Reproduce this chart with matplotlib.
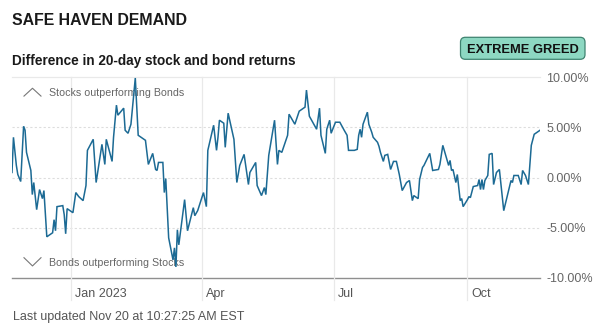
import matplotlib
matplotlib.use("Agg")
import matplotlib.pyplot as plt
import matplotlib.dates as mdates
import matplotlib.transforms as mtransforms
from matplotlib.patches import FancyBboxPatch
import pandas as pd

plt.rcParams["font.family"] = ["Liberation Sans", "DejaVu Sans"]

# Difference in 20-day stock and bond returns (%)
dates = [
    "2022-11-21", "2022-11-22", "2022-11-24", "2022-11-25", "2022-11-27", "2022-11-29",
    "2022-11-30", "2022-12-01", "2022-12-04", "2022-12-05", "2022-12-06", "2022-12-08",
    "2022-12-10", "2022-12-12", "2022-12-13", "2022-12-15", "2022-12-19", "2022-12-20",
    "2022-12-21", "2022-12-22", "2022-12-26", "2022-12-27", "2022-12-28", "2022-12-29",
    "2023-01-02", "2023-01-04", "2023-01-06", "2023-01-09", "2023-01-11", "2023-01-12",
    "2023-01-16", "2023-01-18", "2023-01-22", "2023-01-24", "2023-01-25", "2023-01-27",
    "2023-01-29", "2023-01-30", "2023-02-01", "2023-02-02", "2023-02-06", "2023-02-07",
    "2023-02-09", "2023-02-11", "2023-02-14", "2023-02-16", "2023-02-21", "2023-02-23",
    "2023-02-26", "2023-02-28", "2023-03-01", "2023-03-02", "2023-03-05", "2023-03-06",
    "2023-03-07", "2023-03-09", "2023-03-12", "2023-03-13", "2023-03-14", "2023-03-15",
    "2023-03-16", "2023-03-20", "2023-03-22", "2023-03-26", "2023-03-27", "2023-03-29",
    "2023-04-02", "2023-04-04", "2023-04-05", "2023-04-09", "2023-04-11", "2023-04-12",
    "2023-04-13", "2023-04-16", "2023-04-17", "2023-04-19", "2023-04-23", "2023-04-25",
    "2023-04-27", "2023-04-30", "2023-05-03", "2023-05-04", "2023-05-08", "2023-05-09",
    "2023-05-12", "2023-05-14", "2023-05-15", "2023-05-17", "2023-05-21", "2023-05-23",
    "2023-05-24", "2023-05-26", "2023-05-30", "2023-05-31", "2023-06-04", "2023-06-07",
    "2023-06-11", "2023-06-12", "2023-06-14", "2023-06-19", "2023-06-21", "2023-06-22",
    "2023-06-25", "2023-06-26", "2023-06-28", "2023-06-29", "2023-07-02", "2023-07-05",
    "2023-07-08", "2023-07-10", "2023-07-11", "2023-07-15", "2023-07-17", "2023-07-18",
    "2023-07-19", "2023-07-20", "2023-07-21", "2023-07-24", "2023-07-25", "2023-07-27",
    "2023-07-28", "2023-07-31", "2023-08-01", "2023-08-02", "2023-08-04", "2023-08-05",
    "2023-08-07", "2023-08-09", "2023-08-11", "2023-08-13", "2023-08-15", "2023-08-17",
    "2023-08-20", "2023-08-22", "2023-08-24", "2023-08-25", "2023-08-28", "2023-08-29",
    "2023-08-31", "2023-09-01", "2023-09-05", "2023-09-07", "2023-09-11", "2023-09-12",
    "2023-09-14", "2023-09-17", "2023-09-18", "2023-09-19", "2023-09-20", "2023-09-21",
    "2023-09-23", "2023-09-24", "2023-09-26", "2023-09-27", "2023-09-28", "2023-10-01",
    "2023-10-02", "2023-10-03", "2023-10-05", "2023-10-08", "2023-10-09", "2023-10-10",
    "2023-10-11", "2023-10-12", "2023-10-13", "2023-10-15", "2023-10-16", "2023-10-18",
    "2023-10-19", "2023-10-21", "2023-10-23", "2023-10-26", "2023-10-29", "2023-10-31",
    "2023-11-01", "2023-11-02", "2023-11-05", "2023-11-07", "2023-11-08", "2023-11-10",
    "2023-11-12", "2023-11-14", "2023-11-16", "2023-11-20",
]
spread = [
    0.5, 4.0, 1.2, 0.3, -0.4, 5.1,
    4.7, 2.5, 0.7, -1.7, -0.5, -3.2,
    -1.2, -2.1, -1.3, -5.9, -5.5, -4.2,
    -5.3, -2.9, -2.8, -3.7, -5.6, -3.1,
    -3.5, -1.5, -1.9, -2.3, -0.8, 2.7,
    3.8, -0.5, 3.3, 1.3, 3.8, 2.7,
    1.6, 4.0, 7.2, 6.2, 6.9, 4.7,
    4.4, 5.3, 9.9, 4.2, 3.7, 1.3,
    2.4, 0.8, 0.7, 1.5, 1.5, -1.5,
    -0.1, -6.0, -8.2, -7.0, -8.9, -5.2,
    -6.7, -2.2, -5.3, -3.0, -3.8, -3.3,
    -1.5, -2.9, 2.7, 5.2, 2.7, 4.0,
    5.7, 5.4, 3.0, 6.4, 3.8, -0.5,
    1.2, 2.3, -0.7, 0.5, 1.5, -0.8,
    -1.8, -1.0, -1.7, 2.2, 5.7, 1.3,
    2.7, 2.5, 4.2, 6.3, 5.3, 6.6,
    7.0, 8.7, 6.1, 4.8, 6.9, 4.2,
    2.4, 4.8, 5.7, 4.4, 5.5, 5.5,
    4.7, 4.2, 2.7, 2.7, 2.8, 4.2,
    4.8, 4.0, 5.3, 6.5, 5.3, 4.5,
    4.0, 3.5, 3.1, 2.5, 1.6, 2.2,
    2.3, 0.8, 1.6, 1.6, 0.3, -1.3,
    -0.5, -0.3, -2.3, -1.8, -2.1, -0.2,
    1.0, 1.2, 2.4, 0.7, 0.8, 1.3,
    3.2, 1.7, 1.2, 1.7, 0.7, 0.8,
    -0.5, 0.3, -2.3, -2.1, -2.9, -2.2,
    -1.9, -2.0, -0.9, -0.8, -0.2, -1.2,
    -0.2, -1.2, -0.3, 0.2, 2.3, 2.4,
    -0.7, 0.5, 0.8, -3.3, -1.5, -0.3,
    -0.5, 0.2, 0.2, -0.7, 0.7, 0.2,
    -0.7, 3.2, 4.3, 4.7,
]

month_ticks = ["2023-01-01", "2023-04-01", "2023-07-01", "2023-10-01"]
month_labels = ["Jan 2023", "Apr", "Jul", "Oct"]
y_ticks = [-10, -5, 0, 5, 10]

x = pd.to_datetime(dates)
W, H = 604, 327
fig = plt.figure(figsize=(W / 100, H / 100), dpi=100)
ax = fig.add_axes([12 / W, 1 - 278 / H, 528 / W, 201 / H])

ax.set_xlim(x[0], x[-1])
ax.set_ylim(-10, 10)
for s in ax.spines.values():
    s.set_visible(False)

# horizontal reference lines
for v in y_ticks:
    if v == -10:
        ax.axhline(v, color="#8f8f8f", lw=1.0, zorder=1, clip_on=False)
    elif v == 10:
        ax.axhline(v, color="#e9e9e9", lw=0.9, zorder=1, clip_on=False)
    else:
        ax.axhline(v, color="#dddddd", lw=0.8, ls=(0, (2, 2)), zorder=1)

# month lines reaching below the axis, labels to their right
blend = mtransforms.blended_transform_factory(ax.transData, ax.transAxes)
for d, lab in zip(pd.to_datetime(month_ticks), month_labels):
    xd = mdates.date2num(d)
    ax.plot([xd, xd], [1.0, -0.11], transform=blend, color="#e9e9e9", lw=0.9,
            clip_on=False, zorder=1)
    ax.text(xd, -0.08, lab, transform=blend + mtransforms.ScaledTranslation(4 / 100, 0, fig.dpi_scale_trans),
            ha="left", va="center", fontsize=9, color="#555555")

ax.set_xticks([])
ax.yaxis.tick_right()
ax.set_yticks(y_ticks)
ax.set_yticklabels([f"{v:.2f}%" for v in y_ticks])
ax.tick_params(axis="y", length=0, pad=4.5, labelsize=9, labelcolor="#666666")

ax.plot(x, spread, color="#1c6a94", lw=1.1, zorder=3, solid_joinstyle="miter")

# direction hints
ax.plot([0.0227, 0.0388, 0.0549], [0.905, 0.944, 0.905], transform=ax.transAxes,
        color="#777777", lw=0.8, zorder=2)
ax.plot([0.0227, 0.0388, 0.0549], [0.101, 0.060, 0.101], transform=ax.transAxes,
        color="#777777", lw=0.8, zorder=2)
ax.text(0.070, 0.918, "Stocks outperforming Bonds", transform=ax.transAxes,
        ha="left", va="center", fontsize=7.7, color="#666666", zorder=2)
ax.text(0.070, 0.075, "Bonds outperforming Stocks", transform=ax.transAxes,
        ha="left", va="center", fontsize=7.7, color="#666666", zorder=2)

fig.text(12 / W, 1 - 20.5 / H, "SAFE HAVEN DEMAND", ha="left", va="center",
         fontsize=11.4, fontweight="bold", color="#1a1a1a")
fig.text(12 / W, 1 - 60.5 / H, "Difference in 20-day stock and bond returns", ha="left",
         va="center", fontsize=9.8, fontweight="bold", color="#1a1a1a")

# sentiment badge
badge = FancyBboxPatch((460.5 / W, 1 - 59.3 / H), 124.5 / W, 22 / H,
                       boxstyle="round,pad=0,rounding_size=0.008",
                       transform=fig.transFigure, fc="#8dd8c2", ec="#3f8370", lw=0.9,
                       mutation_aspect=W / H)
fig.patches.append(badge)
fig.text(522.75 / W, 1 - 48.3 / H, "EXTREME GREED", ha="center", va="center_baseline",
         fontsize=9.3, fontweight="bold", color="#111111")

fig.text(13 / W, 1 - 317 / H, "Last updated Nov 20 at 10:27:25 AM EST", ha="left",
         va="center", fontsize=9, color="#555555")

fig.savefig("out.png", dpi=100, facecolor="white")
